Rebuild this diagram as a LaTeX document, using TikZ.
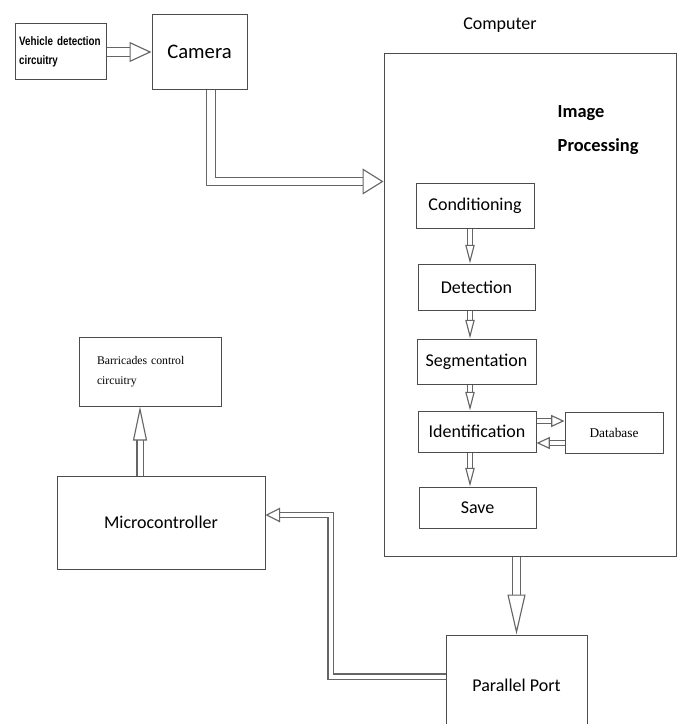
\documentclass[tikz,border=0pt]{standalone}
\usepackage{fontspec}
\setmainfont{Carlito}
\newfontfamily\narrowsans[FakeStretch=0.8]{Liberation Sans}
\newfontfamily\timesfont{Liberation Serif}
\usetikzlibrary{arrows.meta}
\tikzset{>=latex}
\tikzset{
    box/.style 2 args={draw=black!70, line width=0.75pt, inner sep=2pt, minimum width=#1*0.75pt, minimum height=#2*0.75pt},
    hollow/.style n args={3}{draw=black!60, line width=0.85pt, double=white, double distance=#1, -{Triangle[length=#2, width=#3, fill=white]}}
}

\begin{document}
\begin{tikzpicture}[x=0.75pt, y=-0.75pt, font=\fontsize{13.5}{16}\selectfont]
    \useasboundingbox (0,0) rectangle (681,724);
    % top row
    \node[box={91}{56}, align=left, text width=62pt, inner xsep=3pt, font=\narrowsans\bfseries\fontsize{9.2}{14}\selectfont] (vehicle) at (60.5,52) {Vehicle detection\\circuitry};
    \node[box={95}{74}, font=\fontsize{15.5}{18}\selectfont] (camera) at (199.5,52) {Camera};

    % computer and its stages
    \node[box={292}{502}] (computer) at (530,305) {};
    \node (complabel) at (500,25) {Computer};
    \node[anchor=west, align=left, font=\bfseries\fontsize{13.8}{26}\selectfont] (improc) at (553,130) {Image\\Processing};
    \node[box={118}{45}] (cond) at (475,205.5) {Conditioning};
    \node[box={117}{46}] (detect) at (476.5,287) {Detection};
    \node[box={119}{45}] (segment) at (476.5,361.5) {Segmentation};
    \node[box={118}{41}] (ident) at (477,431.5) {Identification};
    \node[box={98}{41}, font=\timesfont\fontsize{10}{12}\selectfont] (database) at (614,432.5) {Database};
    \node[box={117}{41}] (save) at (477.5,507.5) {Save};

    % bottom row
    \node[box={141}{100}] (port) at (516.5,685) {Parallel Port};
    \node[box={208}{93}] (micro) at (161,522.5) {Microcontroller};
    \node[box={142}{69}, align=left, text width=79.5pt, inner xsep=13.5pt, font=\timesfont\fontsize{8.8}{15}\selectfont] (barricade) at (150,371.5) {Barricades control\\circuitry};

    % connectors
    \coordinate (camdrop) at (211,181.5);
    \coordinate (chain) at (470,0);
    \coordinate (dbin) at (0,421);
    \coordinate (dbout) at (0,443);
    \coordinate (bend) at (330.5,515);
    \coordinate (portout) at (0,676.5);
    \coordinate (liftcol) at (140,0);

    \draw[hollow={6.5pt}{16.5pt}{15pt}] (vehicle) -- (camera);
    \draw[hollow={5.75pt}{15.75pt}{19.5pt}] (camera.south -| camdrop) |- (computer.west |- camdrop);

    \draw[hollow={3pt}{14pt}{7pt}] (cond.south -| chain) -- (detect.north -| chain);
    \draw[hollow={3pt}{14pt}{7pt}] (detect.south -| chain) -- (segment.north -| chain);
    \draw[hollow={3pt}{14pt}{7pt}] (segment.south -| chain) -- (ident.north -| chain);
    \draw[hollow={3pt}{14pt}{7pt}] (ident.south -| chain) -- (save.north -| chain);
    \draw[hollow={3.5pt}{10pt}{9pt}] (ident.east |- dbin) -- (database.west |- dbin);
    \draw[hollow={3.5pt}{10pt}{9pt}] (database.west |- dbout) -- (ident.east |- dbout);

    \draw[hollow={5pt}{30pt}{13.5pt}] (port.north |- computer.south) -- (port.north);
    \draw[hollow={3pt}{11pt}{11pt}] (port.west |- portout) -| (bend) -- (micro.east |- bend);
    \draw[hollow={3.75pt}{25.5pt}{10.5pt}] (micro.north -| liftcol) -- (barricade.south -| liftcol);
\end{tikzpicture}
\end{document}
